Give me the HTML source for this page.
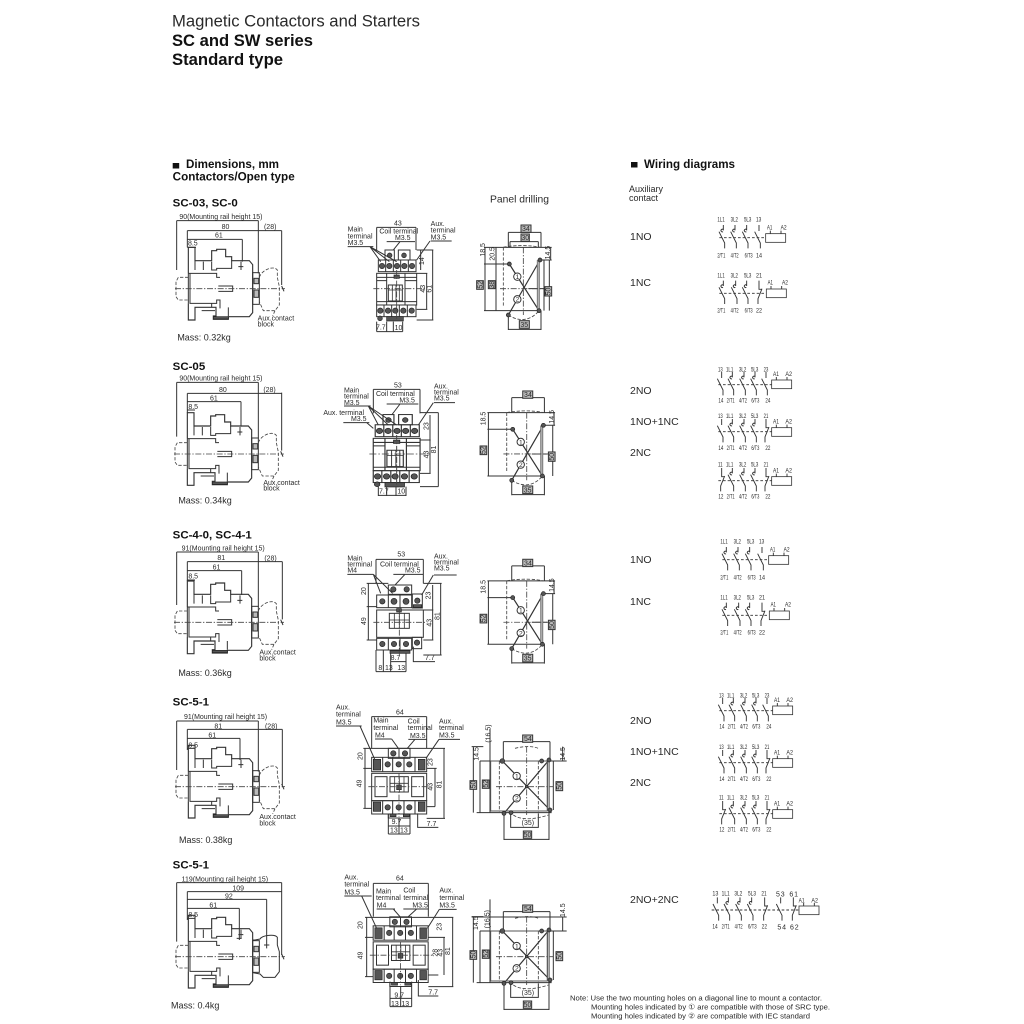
<!DOCTYPE html>
<html><head><meta charset="utf-8"><style>
html,body{margin:0;padding:0;background:#fff}
svg{display:block;filter:blur(.35px)}
text{font-family:"Liberation Sans","DejaVu Sans",sans-serif;fill:#2a2a2a;stroke:none}
.b{font-weight:bold;fill:#111}
.z{font-size:21px}
.m{font-size:27px}
.t{font-size:34.5px;font-weight:bold;fill:#111}
.n{font-size:20px}
.l{fill:none;stroke:#333;stroke-width:3}
.l2{fill:none;stroke:#333;stroke-width:2.4}
.d{fill:none;stroke:#444;stroke-width:2.5;stroke-dasharray:10 5}
.c{fill:none;stroke:#444;stroke-width:2.5;stroke-dasharray:18 5 4 5}
.k{fill:#555;stroke:#222;stroke-width:2}
.g{fill:#bbb;stroke:#333;stroke-width:3}
.w{fill:#fff;stroke:#333;stroke-width:3}
.p{fill:none;stroke:#333;stroke-width:2.8}
</style></head><body>
<svg width="1024" height="1024" viewBox="0 0 1024 1024" xmlns="http://www.w3.org/2000/svg">
<defs>
<g id="side">
<path class="l" style="stroke-width:3.4" d="M85 250V172H105V212H155V182H170V178H197V200H215V212H268L278 224V368L268 380H205V388H160V378H168V352H105V390H85V340"/>
<path class="l" d="M105 212V240M130 215V240M155 215V240H170V235H215V212M85 250H170V262H180M90 250V340H170V330H180V355M155 352V340M205 352V378M175 288H218V304H175M243 215V240M235 230H250M125 362H165M85 250V340"/>
<path class="d" d="M85 262H55L48 275V320L55 330H85"/>
<rect class="l" x="278" y="248" width="20" height="95"/>
<rect class="g" x="282" y="265" width="14" height="16"/>
<rect class="g" x="282" y="300" width="14" height="22"/>
<rect class="k" x="160" y="380" width="45" height="7"/>
<path class="c" d="M45 296H375"/>
<path class="l" d="M365 288L372 304"/>
</g>
<path id="aux" class="d" d="M298 262C305 240 340 225 352 240V262L358 290V345L345 362H310L298 335M345 362L338 378"/>
<g id="frontS">
<rect class="l" x="650" y="250" width="120" height="95"/>
<path class="l" d="M650 262H770M650 272H680M735 272H770M650 335H770M680 250V345M735 250V345"/>
<rect class="l" x="685" y="285" width="42" height="48"/>
<path class="l2" d="M697 285V333M708 285V333M718 285V333M685 300H727"/>
<rect class="l" x="675" y="180" width="28" height="30"/>
<rect class="l" x="715" y="180" width="35" height="30"/>
<circle class="k" cx="689" cy="196" r="7"/><circle class="k" cx="732" cy="196" r="7"/>
<rect class="k" x="702" y="255" width="16" height="10"/>
<rect class="l" x="655" y="210" width="113" height="35"/>
<path class="l" d="M677 210V245M700 210V245M722 210V245M745 210V245"/>
<circle class="k" cx="666" cy="228" r="8"/><circle class="k" cx="688" cy="228" r="8"/><circle class="k" cx="711" cy="228" r="8"/><circle class="k" cx="733" cy="228" r="8"/><circle class="k" cx="756" cy="228" r="8"/>
<rect class="l" x="650" y="345" width="118" height="35"/>
<path class="l" d="M672 345V380M695 345V380M718 345V380M742 345V380"/>
<circle class="k" cx="661" cy="362" r="8"/><circle class="k" cx="684" cy="362" r="8"/><circle class="k" cx="706" cy="362" r="8"/><circle class="k" cx="730" cy="362" r="8"/><circle class="k" cx="755" cy="362" r="8"/>
<rect class="k" x="680" y="380" width="50" height="13"/>
<circle class="k" cx="660" cy="385" r="7"/>
<path class="c" d="M640 296H800M710 240V390"/>
</g>
<g id="front3">
<rect class="l" x="685" y="165" width="70" height="28"/>
<circle class="k" cx="700" cy="178" r="8"/><circle class="k" cx="740" cy="178" r="8"/>
<rect class="l" x="650" y="195" width="105" height="38"/>
<path class="l" d="M685 195V233M720 195V233"/>
<circle class="k" cx="667" cy="214" r="8"/><circle class="k" cx="702" cy="214" r="9"/><circle class="k" cx="738" cy="214" r="9"/>
<rect class="l" x="757" y="192" width="30" height="42"/>
<circle class="k" cx="772" cy="212" r="8"/><rect class="k" x="760" y="224" width="25" height="8"/>
<rect class="l" x="650" y="240" width="140" height="82"/>
<rect class="l" x="688" y="250" width="60" height="45"/>
<path class="l2" d="M703 250V295M718 250V295M733 250V295M688 270H748"/>
<rect class="k" x="710" y="236" width="14" height="10"/>
<rect class="l" x="650" y="325" width="105" height="35"/>
<path class="l" d="M685 325V360M720 325V360"/>
<circle class="k" cx="667" cy="342" r="8"/><circle class="k" cx="702" cy="342" r="8"/><circle class="k" cx="738" cy="342" r="8"/>
<rect class="l" x="757" y="322" width="28" height="34"/><circle class="k" cx="771" cy="338" r="8"/>
<rect class="k" x="690" y="362" width="60" height="8"/>
<path class="c" d="M640 277H800M718 235V375"/>
</g>
<g id="front4">
<rect class="l" x="205" y="145" width="65" height="30"/>
<circle class="k" cx="220" cy="160" r="8"/><circle class="k" cx="255" cy="160" r="8"/><path class="l" d="M237 145V175"/>
<rect class="l" x="155" y="172" width="165" height="43"/>
<path class="l" d="M188 172V215M218 172V215M252 172V215M285 172V215"/>
<rect class="k" x="160" y="178" width="22" height="32"/>
<circle class="k" cx="203" cy="193" r="8"/><circle class="k" cx="236" cy="193" r="8"/><circle class="k" cx="268" cy="193" r="8"/><rect class="k" x="295" y="178" width="20" height="32"/>
<rect class="l" x="155" y="220" width="165" height="82"/>
<rect class="w" x="165" y="230" width="36" height="60"/>
<rect class="w" x="275" y="230" width="36" height="60"/>
<rect class="l" x="210" y="230" width="55" height="46"/>
<path class="l2" d="M224 230V276M238 230V276M252 230V276M210 250H265"/>
<rect class="k" x="230" y="255" width="14" height="14"/>
<rect class="l" x="155" y="302" width="165" height="40"/>
<path class="l" d="M188 302V342M218 302V342M252 302V342M285 302V342"/>
<rect class="k" x="160" y="306" width="22" height="28"/><circle class="k" cx="203" cy="322" r="8"/><circle class="k" cx="236" cy="322" r="8"/><circle class="k" cx="268" cy="322" r="8"/><rect class="k" x="295" y="306" width="20" height="28"/>
<rect class="l" x="205" y="342" width="65" height="12"/><rect class="k" x="210" y="342" width="18" height="8"/><rect class="k" x="250" y="342" width="18" height="8"/>
<path class="c" d="M145 260H335M237 220V350"/>
</g>
<g id="drillS">
<path class="l" d="M72 172H275M72 222H150M240 210H275M72 362H240M145 127H243M145 127V172M243 127V172M145 375V420M243 362V420M145 418H243M75 172V362M272 172V210M268 210V362M205 296H252"/>
<path class="l" style="stroke-width:3.6" d="M148 222L237 362M240 210L145 375"/>
<path class="g" style="stroke:#777;stroke-width:3" d="M232 212V360H238V212Z"/>
<path class="d" d="M130 172V350M130 172C160 165 215 165 240 172M145 375C175 395 210 395 237 362"/>
<path class="c" d="M120 296H262M190 172V375"/>
<circle class="k" cx="148" cy="222" r="6"/><circle class="k" cx="240" cy="210" r="6"/><circle class="k" cx="145" cy="375" r="6"/><circle class="k" cx="237" cy="362" r="6"/>
<circle class="w" cx="172" cy="260" r="11"/><circle class="w" cx="172" cy="328" r="11"/>
</g>
<g id="drillL">
<path class="l" d="M480 183H740M455 140H490M470 338H695M550 125H690M550 125V183M690 125V183M460 140V338M510 88V338M480 183V338M552 340V420M687 330V420M552 418H687M572 340V382H655V340M728 140V183M700 183V330"/>
<path class="l" style="stroke-width:3.6" d="M547 183L690 330M687 180L552 340"/>
<path class="g" style="stroke:#777" d="M682 182V328H688V182Z"/>
<rect class="l" x="512" y="183" width="170" height="150" style="stroke:#555"/>
<path class="d" d="M538 183V335M655 183V335M585 145C610 138 640 138 655 145M580 345C600 360 640 360 685 345"/>
<path class="c" d="M528 260H700M620 140V345"/>
<circle class="k" cx="547" cy="183" r="7"/><circle class="k" cx="665" cy="183" r="6"/><circle class="k" cx="687" cy="180" r="6"/><circle class="k" cx="552" cy="340" r="6"/><circle class="k" cx="573" cy="338" r="6"/><circle class="k" cx="690" cy="330" r="6"/>
<circle class="k" cx="620" cy="260" r="4"/>
<circle class="w" cx="590" cy="228" r="11"/><circle class="w" cx="590" cy="295" r="11"/>
</g>
<g id="pd"><path class="p" d="M0 -38V-22M-13 -18L4 16V32"/><path class="p" d="M-1 -18a4 4 0 1 1 1 -6"/></g>
<g id="pn"><path class="p" d="M0 -38V-20M-13 -18L4 16V32"/></g>
<g id="pc"><path class="p" d="M0 -38V-12H8M9 -14L-3 16V32"/></g>
<g id="coil"><rect class="l2" x="0" y="-13" width="60" height="26"/><path class="p" d="M14 -13V-22M46 -13V-22"/></g>
</defs>

<!-- header -->
<text x="172" y="26.7" font-size="16.6" textLength="248" lengthAdjust="spacingAndGlyphs">Magnetic Contactors and Starters</text>
<text x="172" y="46" font-size="16.4" class="b" textLength="141" lengthAdjust="spacingAndGlyphs">SC and SW series</text>
<text x="172" y="65" font-size="16.4" class="b" textLength="111" lengthAdjust="spacingAndGlyphs">Standard type</text>
<rect x="172.7" y="163" width="6.5" height="5.5" fill="#111"/>
<text x="186" y="168" font-size="11.6" class="b" textLength="93" lengthAdjust="spacingAndGlyphs">Dimensions, mm</text>
<text x="172.7" y="180.7" font-size="11.6" class="b" textLength="122" lengthAdjust="spacingAndGlyphs">Contactors/Open type</text>
<rect x="631" y="162" width="6.5" height="5.5" fill="#111"/>
<text x="644" y="168" font-size="11.6" class="b" textLength="91" lengthAdjust="spacingAndGlyphs">Wiring diagrams</text>
<text x="629" y="192" font-size="9">Auxiliary</text>
<text x="629" y="201" font-size="9">contact</text>
<text x="490" y="202.7" font-size="10.4" textLength="59" lengthAdjust="spacingAndGlyphs">Panel drilling</text>

<!-- Section 1 side -->
<g transform="translate(160,190) scale(.33333)">
<text x="38" y="50" class="t">SC-03, SC-0</text>
<use href="#side"/><use href="#aux"/>
<path class="l" d="M50 92H295M82 122H365M82 148H247M82 172H108M50 92V240M82 122V172M295 92V250M365 122V285M247 148V215"/>
<text x="58" y="87" class="z">90(Mounting rail height 15)</text>
<text x="185" y="117" class="z">80</text>
<text x="312" y="117" class="z">(28)</text>
<text x="165" y="142" class="z">61</text>
<text x="84" y="166" class="z">8.5</text>
<text x="293" y="392" class="z">Aux.contact</text>
<text x="293" y="410" class="z">block</text>
<text x="52" y="452" class="m">Mass: 0.32kg</text>
<!-- front -->
<use href="#frontS"/>
<path class="l" d="M650 112H768M650 112V180M768 112V180M563 170H640M630 170L662 215M630 170L688 215M630 170L710 215M812 153H875M810 153L770 210M680 155H765M720 155L700 180M770 180H820M770 390H820M770 250H802M770 358H802M818 180V390M800 250V358M782 180V240M650 395V425M680 395V425M700 395V425M728 395V425M650 425H728"/>
<text x="702" y="106" class="z">43</text>
<text x="658" y="130" class="z">Coil terminal</text>
<text x="705" y="150" class="z">M3.5</text>
<text x="563" y="125" class="z">Main</text><text x="563" y="145" class="z">terminal</text><text x="563" y="165" class="z">M3.5</text>
<text x="812" y="108" class="z">Aux.</text><text x="812" y="128" class="z">terminal</text><text x="812" y="148" class="z">M3.5</text>
<text transform="translate(792,225) rotate(-90)" class="z">14</text>
<text transform="translate(795,308) rotate(-90)" class="z">43</text>
<text transform="translate(814,308) rotate(-90)" class="z">61</text>
<text x="648" y="418" class="z">7.7</text>
<text x="704" y="420" class="z">10</text>
</g>
<!-- Section 1 drill -->
<g transform="translate(460,190) scale(.33333)">
<use href="#drillS"/>
<path class="l" d="M150 155H235M150 155V172M235 155V172M108 172V362M252 210V362"/>
<rect class="g" x="183" y="105" width="30" height="22"/><rect class="g" x="183" y="132" width="25" height="22"/>
<rect class="g" x="50" y="272" width="20" height="26"/><rect class="g" x="85" y="272" width="20" height="24"/>
<rect class="g" x="255" y="290" width="20" height="28"/><rect class="g" x="178" y="392" width="30" height="23"/>
<text x="186" y="123" class="z">34</text><text x="184" y="150" class="z">30</text>
<text transform="translate(75,200) rotate(-90)" class="z">18.5</text>
<text transform="translate(104,212) rotate(-90)" class="z">20.5</text>
<text transform="translate(270,208) rotate(-90)" class="z">14.5</text>
<text transform="translate(67,296) rotate(-90)" class="z">52</text>
<text transform="translate(102,296) rotate(-90)" class="z">38</text>
<text transform="translate(272,316) rotate(-90)" class="z">50</text>
<text x="181" y="411" class="z">35</text>
<text x="167" y="267" class="n">1</text><text x="167" y="335" class="n">2</text>
</g>
<!-- Section 1 wiring -->
<text x="630" y="240" font-size="10.5">1NO</text>
<text x="630" y="286" font-size="10.5">1NC</text>
<g transform="translate(460,190) scale(.33333)">
<use href="#pd" x="790" y="143"/><use href="#pd" x="825" y="143"/><use href="#pd" x="860" y="143"/><use href="#pn" x="897" y="143"/>
<path class="p" d="M778 143H917" stroke-dasharray="8 6"/><use href="#coil" x="917" y="144"/>
<text x="772" y="95" class="n" textLength="22" lengthAdjust="spacingAndGlyphs">1L1</text><text x="812" y="95" class="n" textLength="22" lengthAdjust="spacingAndGlyphs">3L2</text><text x="852" y="95" class="n" textLength="22" lengthAdjust="spacingAndGlyphs">5L3</text><text x="888" y="95" class="n" textLength="16" lengthAdjust="spacingAndGlyphs">13</text>
<text x="772" y="203" class="n" textLength="24" lengthAdjust="spacingAndGlyphs">2/T1</text><text x="812" y="203" class="n" textLength="24" lengthAdjust="spacingAndGlyphs">4/T2</text><text x="854" y="203" class="n" textLength="24" lengthAdjust="spacingAndGlyphs">6/T3</text><text x="888" y="203" class="n" textLength="18" lengthAdjust="spacingAndGlyphs">14</text>
<text x="921" y="118" class="n" textLength="16" lengthAdjust="spacingAndGlyphs">A1</text><text x="962" y="118" class="n" textLength="18" lengthAdjust="spacingAndGlyphs">A2</text>
<use href="#pd" x="790" y="310"/><use href="#pd" x="827" y="310"/><use href="#pd" x="860" y="310"/><use href="#pc" x="897" y="310"/>
<path class="p" d="M778 310H917" stroke-dasharray="8 6"/><use href="#coil" x="919" y="310"/>
<text x="772" y="262" class="n" textLength="22" lengthAdjust="spacingAndGlyphs">1L1</text><text x="812" y="262" class="n" textLength="22" lengthAdjust="spacingAndGlyphs">3L2</text><text x="852" y="262" class="n" textLength="22" lengthAdjust="spacingAndGlyphs">5L3</text><text x="888" y="262" class="n" textLength="18" lengthAdjust="spacingAndGlyphs">21</text>
<text x="772" y="368" class="n" textLength="24" lengthAdjust="spacingAndGlyphs">2/T1</text><text x="812" y="368" class="n" textLength="24" lengthAdjust="spacingAndGlyphs">4/T2</text><text x="854" y="368" class="n" textLength="24" lengthAdjust="spacingAndGlyphs">6/T3</text><text x="888" y="368" class="n" textLength="18" lengthAdjust="spacingAndGlyphs">22</text>
<text x="923" y="284" class="n" textLength="16" lengthAdjust="spacingAndGlyphs">A1</text><text x="966" y="284" class="n" textLength="18" lengthAdjust="spacingAndGlyphs">A2</text>
</g>

<!-- Section 2 -->
<g transform="translate(160,360) scale(.33333)">
<text x="38" y="30" class="t">SC-05</text>
<use href="#side" x="-3" y="-14"/><use href="#aux" x="-3" y="-14"/>
<path class="l" d="M50 67H295M82 100H365M82 125H243M82 150H105M50 67V230M82 100V158M295 67V235M365 98V272M243 125V200"/>
<text x="58" y="62" class="z">90(Mounting rail height 15)</text>
<text x="177" y="96" class="z">80</text><text x="310" y="96" class="z">(28)</text><text x="150" y="121" class="z">61</text><text x="85" y="147" class="z">8.5</text>
<text x="310" y="375" class="z">Aux.contact</text><text x="310" y="392" class="z">block</text>
<text x="55" y="431" class="m">Mass: 0.34kg</text>
<g transform="translate(710,282) scale(1.17,1.02) translate(-710,-296)"><use href="#frontS"/></g>
<path class="l" d="M640 88H780M640 88V160M780 88V160M552 138H632M625 138L655 195M625 138L685 195M625 138L710 195M550 188H628M620 188L640 205M822 128H885M820 128L775 195M680 132H775M720 132L695 165M780 158H835M780 380H835M780 240H812M780 340H812M835 158V380M810 165V340M655 380V408M680 380V408M708 380V408M738 380V408M655 406H738"/>
<text x="702" y="82" class="z">53</text><text x="648" y="108" class="z">Coil terminal</text><text x="718" y="127" class="z">M3.5</text>
<text x="552" y="97" class="z">Main</text><text x="552" y="115" class="z">terminal</text><text x="552" y="135" class="z">M3.5</text>
<text x="490" y="165" class="z">Aux. terminal</text><text x="573" y="183" class="z">M3.5</text>
<text x="822" y="85" class="z">Aux.</text><text x="822" y="103" class="z">terminal</text><text x="822" y="122" class="z">M3.5</text>
<text transform="translate(805,210) rotate(-90)" class="z">23</text><text transform="translate(805,295) rotate(-90)" class="z">43</text><text transform="translate(828,280) rotate(-90)" class="z">81</text>
<text x="657" y="400" class="z">7.7</text><text x="712" y="400" class="z">10</text>
</g>
<g transform="translate(463.4,355.3) scale(.33333)">
<use href="#drillS"/>
<rect class="g" x="178" y="107" width="30" height="22"/><rect class="g" x="50" y="272" width="20" height="26"/><rect class="g" x="255" y="290" width="20" height="28"/><rect class="g" x="178" y="392" width="30" height="23"/>
<text x="182" y="125" class="z">34</text>
<text transform="translate(66,210) rotate(-90)" class="z">18.5</text><text transform="translate(272,205) rotate(-90)" class="z">14.5</text>
<text transform="translate(67,296) rotate(-90)" class="z">52</text><text transform="translate(272,316) rotate(-90)" class="z">50</text><text x="181" y="411" class="z">35</text>
<text x="167" y="267" class="n">1</text><text x="167" y="335" class="n">2</text>
</g>
<text x="630" y="394" font-size="10.5">2NO</text>
<text x="630" y="425" font-size="10.5">1NO+1NC</text>
<text x="630" y="456" font-size="10.5">2NC</text>
<g transform="translate(620,360) scale(.33333)">
<use href="#pn" x="305" y="74"/><use href="#pd" x="337" y="74"/><use href="#pd" x="372" y="74"/><use href="#pd" x="405" y="74"/><use href="#pn" x="438" y="74"/>
<path class="p" d="M295 74H455" stroke-dasharray="8 6"/><use href="#coil" x="455" y="73"/>
<text x="294" y="34" class="n" textLength="14" lengthAdjust="spacingAndGlyphs">13</text><text x="318" y="34" class="n" textLength="22" lengthAdjust="spacingAndGlyphs">1L1</text><text x="357" y="34" class="n" textLength="22" lengthAdjust="spacingAndGlyphs">3L2</text><text x="393" y="34" class="n" textLength="22" lengthAdjust="spacingAndGlyphs">5L3</text><text x="431" y="34" class="n" textLength="14" lengthAdjust="spacingAndGlyphs">23</text>
<text x="295" y="128" class="n" textLength="15" lengthAdjust="spacingAndGlyphs">14</text><text x="320" y="128" class="n" textLength="24" lengthAdjust="spacingAndGlyphs">2/T1</text><text x="357" y="128" class="n" textLength="24" lengthAdjust="spacingAndGlyphs">4/T2</text><text x="394" y="128" class="n" textLength="24" lengthAdjust="spacingAndGlyphs">6/T3</text><text x="436" y="128" class="n" textLength="15" lengthAdjust="spacingAndGlyphs">24</text>
<text x="459" y="48" class="n" textLength="18" lengthAdjust="spacingAndGlyphs">A1</text><text x="496" y="48" class="n" textLength="20" lengthAdjust="spacingAndGlyphs">A2</text>
<use href="#pn" x="305" y="215"/><use href="#pd" x="337" y="215"/><use href="#pd" x="372" y="215"/><use href="#pd" x="405" y="215"/><use href="#pc" x="438" y="215"/>
<path class="p" d="M295 215H455" stroke-dasharray="8 6"/><use href="#coil" x="455" y="216"/>
<text x="294" y="174" class="n" textLength="14" lengthAdjust="spacingAndGlyphs">13</text><text x="318" y="174" class="n" textLength="22" lengthAdjust="spacingAndGlyphs">1L1</text><text x="357" y="174" class="n" textLength="22" lengthAdjust="spacingAndGlyphs">3L2</text><text x="393" y="174" class="n" textLength="22" lengthAdjust="spacingAndGlyphs">5L3</text><text x="431" y="174" class="n" textLength="14" lengthAdjust="spacingAndGlyphs">21</text>
<text x="295" y="270" class="n" textLength="15" lengthAdjust="spacingAndGlyphs">14</text><text x="320" y="270" class="n" textLength="24" lengthAdjust="spacingAndGlyphs">2/T1</text><text x="357" y="270" class="n" textLength="24" lengthAdjust="spacingAndGlyphs">4/T2</text><text x="394" y="270" class="n" textLength="24" lengthAdjust="spacingAndGlyphs">6/T3</text><text x="436" y="270" class="n" textLength="15" lengthAdjust="spacingAndGlyphs">22</text>
<text x="459" y="190" class="n" textLength="18" lengthAdjust="spacingAndGlyphs">A1</text><text x="496" y="190" class="n" textLength="20" lengthAdjust="spacingAndGlyphs">A2</text>
<use href="#pc" x="305" y="362"/><use href="#pd" x="337" y="362"/><use href="#pd" x="372" y="362"/><use href="#pd" x="405" y="362"/><use href="#pc" x="438" y="362"/>
<path class="p" d="M295 362H455" stroke-dasharray="8 6"/><use href="#coil" x="455" y="363"/>
<text x="294" y="320" class="n" textLength="14" lengthAdjust="spacingAndGlyphs">11</text><text x="318" y="320" class="n" textLength="22" lengthAdjust="spacingAndGlyphs">1L1</text><text x="357" y="320" class="n" textLength="22" lengthAdjust="spacingAndGlyphs">3L2</text><text x="393" y="320" class="n" textLength="22" lengthAdjust="spacingAndGlyphs">5L3</text><text x="431" y="320" class="n" textLength="14" lengthAdjust="spacingAndGlyphs">21</text>
<text x="295" y="416" class="n" textLength="15" lengthAdjust="spacingAndGlyphs">12</text><text x="320" y="416" class="n" textLength="24" lengthAdjust="spacingAndGlyphs">2/T1</text><text x="357" y="416" class="n" textLength="24" lengthAdjust="spacingAndGlyphs">4/T2</text><text x="394" y="416" class="n" textLength="24" lengthAdjust="spacingAndGlyphs">6/T3</text><text x="436" y="416" class="n" textLength="15" lengthAdjust="spacingAndGlyphs">22</text>
<text x="459" y="338" class="n" textLength="18" lengthAdjust="spacingAndGlyphs">A1</text><text x="496" y="338" class="n" textLength="20" lengthAdjust="spacingAndGlyphs">A2</text>
</g>

<!-- Section 3 -->
<g transform="translate(160,530) scale(.33333)">
<text x="38" y="25" class="t">SC-4-0, SC-4-1</text>
<use href="#side" x="-3" y="-19"/><use href="#aux" x="-3" y="-19"/>
<path class="l" d="M50 66H295M82 95H367M82 122H245M82 150H105M50 66V225M82 95V153M295 66V230M367 95V268M245 122V195"/>
<text x="65" y="62" class="z">91(Mounting rail height 15)</text>
<text x="172" y="90" class="z">81</text><text x="313" y="91" class="z">(28)</text><text x="158" y="118" class="z">61</text><text x="85" y="146" class="z">8.5</text>
<text x="298" y="373" class="z">Aux.contact</text><text x="298" y="392" class="z">block</text>
<text x="55" y="438" class="m">Mass: 0.36kg</text>
<use href="#front3"/>
<path class="l" d="M648 88H790M648 88V160M790 88V160M562 133H640M640 133L662 190M640 133L698 190M822 135H890M820 135L785 195M700 133H790M735 133L705 165M790 160H845M790 375H845M790 240H820M790 330H820M620 160H685M620 230H650M620 330H650M842 160V375M818 165V330M625 160V330M648 360V425M670 360V425M692 370V425M738 370V425M692 395H738M760 350V395H825M648 425H738"/>
<text x="712" y="80" class="z">53</text><text x="660" y="110" class="z">Coil terminal</text><text x="735" y="127" class="z">M3.5</text>
<text x="562" y="92" class="z">Main</text><text x="562" y="110" class="z">terminal</text><text x="562" y="128" class="z">M4</text>
<text x="822" y="85" class="z">Aux.</text><text x="822" y="103" class="z">terminal</text><text x="822" y="122" class="z">M3.5</text>
<text transform="translate(618,195) rotate(-90)" class="z">20</text><text transform="translate(618,285) rotate(-90)" class="z">49</text><text transform="translate(812,208) rotate(-90)" class="z">23</text><text transform="translate(815,290) rotate(-90)" class="z">43</text><text transform="translate(838,270) rotate(-90)" class="z">81</text>
<text x="692" y="390" class="z">8.7</text><text x="795" y="390" class="z">7.7</text><text x="655" y="420" class="z">8</text><text x="675" y="420" class="z">13</text><text x="712" y="420" class="z">13</text>
</g>
<g transform="translate(463.4,523.6) scale(.33333)">
<use href="#drillS"/>
<rect class="g" x="178" y="107" width="30" height="22"/><rect class="g" x="50" y="272" width="20" height="26"/><rect class="g" x="255" y="290" width="20" height="28"/><rect class="g" x="178" y="392" width="30" height="23"/>
<text x="182" y="125" class="z">34</text>
<text transform="translate(66,210) rotate(-90)" class="z">18.5</text><text transform="translate(272,205) rotate(-90)" class="z">14.5</text>
<text transform="translate(67,296) rotate(-90)" class="z">52</text><text transform="translate(272,316) rotate(-90)" class="z">50</text><text x="181" y="411" class="z">35</text>
<text x="167" y="267" class="n">1</text><text x="167" y="335" class="n">2</text>
</g>
<text x="630" y="563" font-size="10.5">1NO</text>
<text x="630" y="605" font-size="10.5">1NC</text>
<g transform="translate(463,512) scale(.33333)">
<use href="#pd" x="790" y="143"/><use href="#pd" x="825" y="143"/><use href="#pd" x="860" y="143"/><use href="#pn" x="897" y="143"/>
<path class="p" d="M778 143H917" stroke-dasharray="8 6"/><use href="#coil" x="917" y="144"/>
<text x="772" y="95" class="n" textLength="22" lengthAdjust="spacingAndGlyphs">1L1</text><text x="812" y="95" class="n" textLength="22" lengthAdjust="spacingAndGlyphs">3L2</text><text x="852" y="95" class="n" textLength="22" lengthAdjust="spacingAndGlyphs">5L3</text><text x="888" y="95" class="n" textLength="16" lengthAdjust="spacingAndGlyphs">13</text>
<text x="772" y="203" class="n" textLength="24" lengthAdjust="spacingAndGlyphs">2/T1</text><text x="812" y="203" class="n" textLength="24" lengthAdjust="spacingAndGlyphs">4/T2</text><text x="854" y="203" class="n" textLength="24" lengthAdjust="spacingAndGlyphs">6/T3</text><text x="888" y="203" class="n" textLength="18" lengthAdjust="spacingAndGlyphs">14</text>
<text x="921" y="118" class="n" textLength="16" lengthAdjust="spacingAndGlyphs">A1</text><text x="962" y="118" class="n" textLength="18" lengthAdjust="spacingAndGlyphs">A2</text>
<use href="#pd" x="790" y="310"/><use href="#pd" x="827" y="310"/><use href="#pd" x="860" y="310"/><use href="#pc" x="897" y="310"/>
<path class="p" d="M778 310H917" stroke-dasharray="8 6"/><use href="#coil" x="919" y="310"/>
<text x="772" y="262" class="n" textLength="22" lengthAdjust="spacingAndGlyphs">1L1</text><text x="812" y="262" class="n" textLength="22" lengthAdjust="spacingAndGlyphs">3L2</text><text x="852" y="262" class="n" textLength="22" lengthAdjust="spacingAndGlyphs">5L3</text><text x="888" y="262" class="n" textLength="18" lengthAdjust="spacingAndGlyphs">21</text>
<text x="772" y="368" class="n" textLength="24" lengthAdjust="spacingAndGlyphs">2/T1</text><text x="812" y="368" class="n" textLength="24" lengthAdjust="spacingAndGlyphs">4/T2</text><text x="854" y="368" class="n" textLength="24" lengthAdjust="spacingAndGlyphs">6/T3</text><text x="888" y="368" class="n" textLength="18" lengthAdjust="spacingAndGlyphs">22</text>
<text x="923" y="284" class="n" textLength="16" lengthAdjust="spacingAndGlyphs">A1</text><text x="966" y="284" class="n" textLength="18" lengthAdjust="spacingAndGlyphs">A2</text>
</g>

<!-- Section 4 -->
<g transform="translate(160,695) scale(.33333)">
<text x="38" y="32" class="t">SC-5-1</text>
<use href="#side" y="-21"/><use href="#aux" y="-21"/>
<path class="l" d="M50 78H295M82 103H367M82 130H240M82 160H105M50 78V225M82 103V165M295 78V230M367 103V270M240 130V195"/>
<text x="72" y="72" class="z">91(Mounting rail height 15)</text>
<text x="163" y="100" class="z">81</text><text x="315" y="100" class="z">(28)</text><text x="145" y="127" class="z">61</text><text x="85" y="157" class="z">8.5</text>
<text x="298" y="372" class="z">Aux.contact</text><text x="298" y="392" class="z">block</text>
<text x="57" y="444" class="m">Mass: 0.38kg</text>
</g>
<g transform="translate(320,700) scale(.33333)">
<use href="#front4"/>
<path class="l" d="M155 50H320M155 50V145M320 50V145M48 78H125M120 78L165 180M165 117H215M215 117L235 145M265 118H320M285 118L262 145M357 118H420M357 118L318 175M130 145H375M130 205H155M130 325H155M320 205H350M320 320H345M320 355H375M135 145V325M345 205V320M372 145V355M205 342V402M270 342V402M205 378H270M237 355V402M293 340V382H355M205 402H270"/>
<text x="228" y="43" class="z">64</text>
<text x="48" y="28" class="z">Aux.</text><text x="48" y="50" class="z">terminal</text><text x="48" y="73" class="z">M3.5</text>
<text x="160" y="68" class="z">Main</text><text x="160" y="90" class="z">terminal</text><text x="165" y="112" class="z">M4</text>
<text x="263" y="70" class="z">Coil</text><text x="263" y="90" class="z">terminal</text><text x="270" y="114" class="z">M3.5</text>
<text x="357" y="70" class="z">Aux.</text><text x="357" y="90" class="z">terminal</text><text x="357" y="113" class="z">M3.5</text>
<text transform="translate(128,180) rotate(-90)" class="z">20</text><text transform="translate(125,262) rotate(-90)" class="z">49</text><text transform="translate(338,198) rotate(-90)" class="z">23</text><text transform="translate(338,272) rotate(-90)" class="z">43</text><text transform="translate(365,265) rotate(-90)" class="z">81</text>
<text x="215" y="372" class="z">9.7</text><text x="320" y="378" class="z">7.7</text><text x="210" y="398" class="z">13</text><text x="240" y="398" class="z">13</text>
<use href="#drillL"/>
<rect class="g" x="608" y="105" width="30" height="22"/><rect class="g" x="450" y="242" width="20" height="26"/><rect class="g" x="487" y="240" width="20" height="25"/><rect class="g" x="708" y="245" width="20" height="27"/><rect class="g" x="610" y="393" width="25" height="22"/>
<text x="612" y="123" class="z">54</text>
<text transform="translate(512,128) rotate(-90)" class="z">(16.5)</text><text transform="translate(475,182) rotate(-90)" class="z">14.5</text><text transform="translate(735,182) rotate(-90)" class="z">14.5</text>
<text transform="translate(467,265) rotate(-90)" class="z">50</text><text transform="translate(504,263) rotate(-90)" class="z">52</text><text transform="translate(725,269) rotate(-90)" class="z">50</text>
<text x="605" y="375" class="z">(35)</text><text x="611" y="411" class="z">50</text>
<text x="585" y="235" class="n">1</text><text x="585" y="302" class="n">2</text>
</g>
<text x="630" y="724" font-size="10.5">2NO</text>
<text x="630" y="755" font-size="10.5">1NO+1NC</text>
<text x="630" y="786" font-size="10.5">2NC</text>
<g transform="translate(621,686) scale(.33333)">
<use href="#pn" x="305" y="74"/><use href="#pd" x="337" y="74"/><use href="#pd" x="372" y="74"/><use href="#pd" x="405" y="74"/><use href="#pn" x="438" y="74"/>
<path class="p" d="M295 74H455" stroke-dasharray="8 6"/><use href="#coil" x="455" y="73"/>
<text x="294" y="34" class="n" textLength="14" lengthAdjust="spacingAndGlyphs">13</text><text x="318" y="34" class="n" textLength="22" lengthAdjust="spacingAndGlyphs">1L1</text><text x="357" y="34" class="n" textLength="22" lengthAdjust="spacingAndGlyphs">3L2</text><text x="393" y="34" class="n" textLength="22" lengthAdjust="spacingAndGlyphs">5L3</text><text x="431" y="34" class="n" textLength="14" lengthAdjust="spacingAndGlyphs">23</text>
<text x="295" y="128" class="n" textLength="15" lengthAdjust="spacingAndGlyphs">14</text><text x="320" y="128" class="n" textLength="24" lengthAdjust="spacingAndGlyphs">2/T1</text><text x="357" y="128" class="n" textLength="24" lengthAdjust="spacingAndGlyphs">4/T2</text><text x="394" y="128" class="n" textLength="24" lengthAdjust="spacingAndGlyphs">6/T3</text><text x="436" y="128" class="n" textLength="15" lengthAdjust="spacingAndGlyphs">24</text>
<text x="459" y="48" class="n" textLength="18" lengthAdjust="spacingAndGlyphs">A1</text><text x="496" y="48" class="n" textLength="20" lengthAdjust="spacingAndGlyphs">A2</text>
</g>
<g transform="translate(621,691) scale(.33333)">
<use href="#pn" x="305" y="215"/><use href="#pd" x="337" y="215"/><use href="#pd" x="372" y="215"/><use href="#pd" x="405" y="215"/><use href="#pc" x="438" y="215"/>
<path class="p" d="M295 215H455" stroke-dasharray="8 6"/><use href="#coil" x="455" y="216"/>
<text x="294" y="174" class="n" textLength="14" lengthAdjust="spacingAndGlyphs">13</text><text x="318" y="174" class="n" textLength="22" lengthAdjust="spacingAndGlyphs">1L1</text><text x="357" y="174" class="n" textLength="22" lengthAdjust="spacingAndGlyphs">3L2</text><text x="393" y="174" class="n" textLength="22" lengthAdjust="spacingAndGlyphs">5L3</text><text x="431" y="174" class="n" textLength="14" lengthAdjust="spacingAndGlyphs">21</text>
<text x="295" y="270" class="n" textLength="15" lengthAdjust="spacingAndGlyphs">14</text><text x="320" y="270" class="n" textLength="24" lengthAdjust="spacingAndGlyphs">2/T1</text><text x="357" y="270" class="n" textLength="24" lengthAdjust="spacingAndGlyphs">4/T2</text><text x="394" y="270" class="n" textLength="24" lengthAdjust="spacingAndGlyphs">6/T3</text><text x="436" y="270" class="n" textLength="15" lengthAdjust="spacingAndGlyphs">22</text>
<text x="459" y="190" class="n" textLength="18" lengthAdjust="spacingAndGlyphs">A1</text><text x="496" y="190" class="n" textLength="20" lengthAdjust="spacingAndGlyphs">A2</text>
</g>
<g transform="translate(621,693) scale(.33333)">
<use href="#pc" x="305" y="362"/><use href="#pd" x="337" y="362"/><use href="#pd" x="372" y="362"/><use href="#pd" x="405" y="362"/><use href="#pc" x="438" y="362"/>
<path class="p" d="M295 362H455" stroke-dasharray="8 6"/><use href="#coil" x="455" y="363"/>
<text x="294" y="320" class="n" textLength="14" lengthAdjust="spacingAndGlyphs">11</text><text x="318" y="320" class="n" textLength="22" lengthAdjust="spacingAndGlyphs">1L1</text><text x="357" y="320" class="n" textLength="22" lengthAdjust="spacingAndGlyphs">3L2</text><text x="393" y="320" class="n" textLength="22" lengthAdjust="spacingAndGlyphs">5L3</text><text x="431" y="320" class="n" textLength="14" lengthAdjust="spacingAndGlyphs">21</text>
<text x="295" y="416" class="n" textLength="15" lengthAdjust="spacingAndGlyphs">12</text><text x="320" y="416" class="n" textLength="24" lengthAdjust="spacingAndGlyphs">2/T1</text><text x="357" y="416" class="n" textLength="24" lengthAdjust="spacingAndGlyphs">4/T2</text><text x="394" y="416" class="n" textLength="24" lengthAdjust="spacingAndGlyphs">6/T3</text><text x="436" y="416" class="n" textLength="15" lengthAdjust="spacingAndGlyphs">22</text>
<text x="459" y="338" class="n" textLength="18" lengthAdjust="spacingAndGlyphs">A1</text><text x="496" y="338" class="n" textLength="20" lengthAdjust="spacingAndGlyphs">A2</text>
</g>

<!-- Section 5 -->
<g transform="translate(160,860) scale(.33333)">
<text x="38" y="25" class="t">SC-5-1</text>
<use href="#side" y="-6"/>
<path class="l" d="M278 240H285L300 237C308 225 345 222 352 232V255L358 275V335L345 352H310L300 342L278 338"/>
<path class="l" d="M50 68H365M82 95H365M82 118H320M82 145H238M82 175H105M50 68V245M82 95V180M365 68V285M320 118V265M238 145V225M230 235H245M238 215V240M312 255H328"/>
<text x="65" y="64" class="z">119(Mounting rail height 15)</text>
<text x="217" y="91" class="z">109</text><text x="195" y="115" class="z">92</text><text x="148" y="142" class="z">61</text><text x="85" y="171" class="z">8.5</text>
<text x="33" y="445" class="m">Mass: 0.4kg</text>
</g>
<g transform="translate(321.5,868.5) scale(.33333)">
<use href="#front4"/>
</g>
<g transform="translate(160,860) scale(.33333)">
<path class="l" d="M640 70H805M640 70V170M805 70V170M553 108H635M605 108L650 205M650 147H705M700 147L720 170M730 147H805M770 147L745 170M838 148H890M838 148L802 205M615 172H880M615 232H640M615 350H640M805 232H855M805 345H835M805 380H880M620 172V350M852 232V345M878 172V380M690 365V440M755 365V440M690 415H755M722 380V440M775 360V408H835M690 440H755"/>
<text x="708" y="62" class="z">64</text>
<text x="553" y="58" class="z">Aux.</text><text x="553" y="80" class="z">terminal</text><text x="553" y="103" class="z">M3.5</text>
<text x="648" y="100" class="z">Main</text><text x="648" y="120" class="z">terminal</text><text x="650" y="143" class="z">M4</text>
<text x="730" y="97" class="z">Coil</text><text x="730" y="120" class="z">terminal</text><text x="757" y="143" class="z">M3.5</text>
<text x="838" y="98" class="z">Aux.</text><text x="838" y="120" class="z">terminal</text><text x="838" y="143" class="z">M3.5</text>
<text transform="translate(608,207) rotate(-90)" class="z">20</text><text transform="translate(608,298) rotate(-90)" class="z">49</text><text transform="translate(845,212) rotate(-90)" class="z">23</text><text transform="translate(832,290) rotate(-90)" class="z">28</text><text transform="translate(848,290) rotate(-90)" class="z">43</text><text transform="translate(870,285) rotate(-90)" class="z">81</text>
<text x="703" y="412" class="z">9.7</text><text x="805" y="403" class="z">7.7</text><text x="693" y="438" class="z">13</text><text x="724" y="438" class="z">13</text>
</g>
<g transform="translate(320,870) scale(.33333)">
<use href="#drillL"/>
<path class="l" d="M455 141H740"/>
<rect class="g" x="608" y="105" width="30" height="22"/><rect class="g" x="450" y="242" width="20" height="26"/><rect class="g" x="487" y="240" width="20" height="25"/><rect class="g" x="708" y="245" width="20" height="27"/><rect class="g" x="610" y="393" width="25" height="22"/>
<text x="612" y="123" class="z">54</text>
<text transform="translate(508,175) rotate(-90)" class="z">(16.5)</text><text transform="translate(474,180) rotate(-90)" class="z">14.5</text><text transform="translate(735,141) rotate(-90)" class="z">14.5</text>
<text transform="translate(467,265) rotate(-90)" class="z">50</text><text transform="translate(504,263) rotate(-90)" class="z">52</text><text transform="translate(725,269) rotate(-90)" class="z">50</text>
<text x="605" y="375" class="z">(35)</text><text x="611" y="411" class="z">50</text>
<text x="585" y="235" class="n">1</text><text x="585" y="302" class="n">2</text>
</g>
<text x="630" y="903" font-size="10.5">2NO+2NC</text>
<g transform="translate(460,860) scale(.33333)">
<use href="#pn" x="772" y="150"/><use href="#pd" x="805" y="150"/><use href="#pd" x="840" y="150"/><use href="#pd" x="875" y="150"/><use href="#pc" x="914" y="150"/><use href="#pn" x="962" y="150"/><use href="#pc" x="1000" y="150"/>
<path class="p" d="M755 150H1016" stroke-dasharray="8 6"/><use href="#coil" x="1017" y="151"/>
<text x="757" y="107" class="n" textLength="18" lengthAdjust="spacingAndGlyphs">13</text><text x="785" y="107" class="n" textLength="24" lengthAdjust="spacingAndGlyphs">1L1</text><text x="823" y="107" class="n" textLength="24" lengthAdjust="spacingAndGlyphs">3L2</text><text x="864" y="107" class="n" textLength="24" lengthAdjust="spacingAndGlyphs">5L3</text><text x="904" y="107" class="n" textLength="16" lengthAdjust="spacingAndGlyphs">21</text>
<text x="948" y="109" class="z" textLength="26">53</text><text x="988" y="109" class="z" textLength="26">61</text>
<text x="757" y="206" class="n" textLength="16" lengthAdjust="spacingAndGlyphs">14</text><text x="785" y="206" class="n" textLength="24" lengthAdjust="spacingAndGlyphs">2/T1</text><text x="824" y="206" class="n" textLength="24" lengthAdjust="spacingAndGlyphs">4/T2</text><text x="864" y="206" class="n" textLength="26" lengthAdjust="spacingAndGlyphs">6/T3</text><text x="905" y="206" class="n" textLength="16" lengthAdjust="spacingAndGlyphs">22</text>
<text x="952" y="208" class="z" textLength="26">54</text><text x="990" y="208" class="z" textLength="26">62</text>
<text x="1016" y="127" class="n" textLength="18" lengthAdjust="spacingAndGlyphs">A1</text><text x="1054" y="127" class="n" textLength="20" lengthAdjust="spacingAndGlyphs">A2</text>
</g>
<text x="570" y="1000.7" font-size="7.7" textLength="252" lengthAdjust="spacingAndGlyphs">Note: Use the two mounting holes on a diagonal line to mount a contactor.</text>
<text x="591" y="1009.7" font-size="7.7" textLength="239" lengthAdjust="spacingAndGlyphs">Mounting holes indicated by ① are compatible with those of SRC type.</text>
<text x="591" y="1018.7" font-size="7.7" textLength="219" lengthAdjust="spacingAndGlyphs">Mounting holes indicated by ② are compatible with IEC standard</text>
</svg>
</body></html>
